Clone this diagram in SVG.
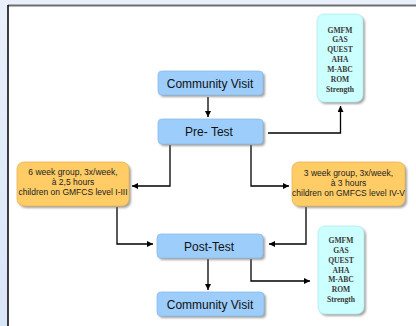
<svg xmlns="http://www.w3.org/2000/svg" width="416" height="326" viewBox="0 0 416 326">
<defs>
<linearGradient id="bg" x1="0" y1="0" x2="0" y2="1">
<stop offset="0" stop-color="#eaf0fb"/>
<stop offset="1" stop-color="#d9e6f8"/>
</linearGradient>
<filter id="sh" x="-20%" y="-20%" width="140%" height="140%">
<feGaussianBlur stdDeviation="1"/>
</filter>
<marker id="ah" viewBox="0 0 10 10" refX="10" refY="5" markerWidth="6" markerHeight="6" markerUnits="userSpaceOnUse" orient="auto">
<path d="M0,0 L10,5 L0,10 Z" fill="#000"/>
</marker>
</defs>
<style>
.shadow{fill:#7a7a7a;opacity:0.7;filter:url(#sh)}
.blue{fill:#9dcdfb;stroke:#8cbbe8;stroke-width:0.8}
.orange{fill:#ffcc66;stroke:#e8b455;stroke-width:0.8}
.cyan{fill:#ccffff;stroke:#b5e8ea;stroke-width:0.8}
.lbl{font-family:"Liberation Sans",Arial,sans-serif;font-size:12px;fill:#111;text-anchor:middle}
.small{font-family:"Liberation Sans",Arial,sans-serif;font-size:8.5px;fill:#222;text-anchor:middle}
.tst{font-family:"Liberation Serif","Times New Roman",serif;font-size:7.6px;font-weight:bold;fill:#3a3a3a;text-anchor:middle}
.conn{fill:none;stroke:#000;stroke-width:1.3}
</style>
<rect x="0" y="0" width="416" height="326" fill="url(#bg)"/>
<rect x="8" y="6" width="408" height="320" fill="#fff"/>
<line x1="8" y1="5.5" x2="416" y2="5.5" stroke="#6e6e6e" stroke-width="2"/>
<line x1="8" y1="5" x2="8" y2="326" stroke="#000" stroke-width="1.5"/>

<g id="connectors">
<path class="conn" d="M208,97 V117" marker-end="url(#ah)"/>
<path class="conn" d="M268,133 H340.5 V106" marker-end="url(#ah)"/>
<path class="conn" d="M170,145 V186 H132" marker-end="url(#ah)"/>
<path class="conn" d="M251,145 V186 H289" marker-end="url(#ah)"/>
<path class="conn" d="M117,207 V244 H153" marker-end="url(#ah)"/>
<path class="conn" d="M306,207 V244 H269" marker-end="url(#ah)"/>
<path class="conn" d="M208,259 V290" marker-end="url(#ah)"/>
<path class="conn" d="M251,259 V281 H310" marker-end="url(#ah)"/>
</g>

<g id="cv-top">
<rect class="shadow" x="160" y="73" width="105" height="24" rx="4"/>
<rect class="blue" x="158" y="71" width="105" height="24" rx="4"/>
<text class="lbl" x="210" y="87.5">Community Visit</text>
</g>

<g id="tests-top">
<rect class="shadow" x="319" y="16" width="46" height="88" rx="7"/>
<rect class="cyan" x="317" y="14" width="46" height="88" rx="7"/>
<text class="tst" x="340" y="32.5">GMFM</text>
<text class="tst" x="340" y="42.4">GAS</text>
<text class="tst" x="340" y="52.3">QUEST</text>
<text class="tst" x="340" y="62.2">AHA</text>
<text class="tst" x="340" y="72.1">M-ABC</text>
<text class="tst" x="340" y="82">ROM</text>
<text class="tst" x="340" y="91.9">Strength</text>
</g>

<g id="pre-test">
<rect class="shadow" x="160" y="121" width="105" height="25" rx="4"/>
<rect class="blue" x="158" y="119" width="105" height="25" rx="4"/>
<text class="lbl" x="209" y="135.5">Pre- Test</text>
</g>

<g id="group-6week">
<rect class="shadow" x="19" y="164" width="112" height="44" rx="7"/>
<rect class="orange" x="17" y="162" width="112" height="44" rx="7"/>
<text class="small" x="73" y="174.5">6 week group, 3x/week,</text>
<text class="small" x="73" y="184.5">à 2,5 hours</text>
<text class="small" x="73" y="194.5">children on GMFCS level I-III</text>
</g>

<g id="group-3week">
<rect class="shadow" x="294" y="164" width="113" height="44" rx="7"/>
<rect class="orange" x="292" y="162" width="113" height="44" rx="7"/>
<text class="small" x="348.5" y="175.5">3 week group, 3x/week,</text>
<text class="small" x="348.5" y="185.5">à 3 hours</text>
<text class="small" x="348.5" y="196">children on GMFCS level IV-V</text>
</g>

<g id="post-test">
<rect class="shadow" x="159" y="236" width="106" height="24" rx="4"/>
<rect class="blue" x="157" y="234" width="106" height="24" rx="4"/>
<text class="lbl" x="209" y="250.5">Post-Test</text>
</g>

<g id="cv-bottom">
<rect class="shadow" x="159" y="294" width="107" height="24" rx="4"/>
<rect class="blue" x="157" y="292" width="107" height="24" rx="4"/>
<text class="lbl" x="210" y="308.5">Community Visit</text>
</g>

<g id="tests-bottom">
<rect class="shadow" x="320" y="228" width="46" height="88" rx="7"/>
<rect class="cyan" x="318" y="226" width="46" height="88" rx="7"/>
<text class="tst" x="341" y="242.8">GMFM</text>
<text class="tst" x="341" y="252.7">GAS</text>
<text class="tst" x="341" y="262.6">QUEST</text>
<text class="tst" x="341" y="272.5">AHA</text>
<text class="tst" x="341" y="282.4">M-ABC</text>
<text class="tst" x="341" y="292.3">ROM</text>
<text class="tst" x="341" y="302.2">Strength</text>
</g>
</svg>
